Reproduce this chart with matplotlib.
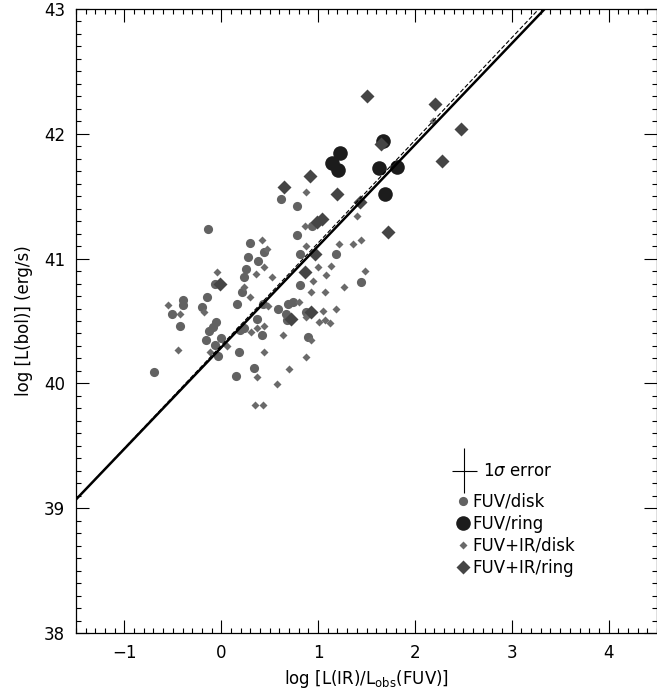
import matplotlib
matplotlib.use("Agg")
import matplotlib.pyplot as plt
from matplotlib.ticker import MultipleLocator
from matplotlib.lines import Line2D

# ---- data ----
fuv_disk_x = [-0.69, -0.14, -0.51, -0.43, -0.40, -0.40, -0.20, -0.15, -0.16, -0.06, 0.00, -0.03,
              -0.13, -0.09, -0.05, -0.06, 0.15, 0.18, 0.19, 0.21, 0.16, 0.23, 0.26, 0.28, 0.30,
              0.38, 0.44, 0.37, 0.42, 0.34, 0.435, 0.59, 0.62, 0.78, 0.78, 0.81, 0.81, 0.69,
              0.745, 0.67, 0.68, 0.88, 0.90, 0.94, 1.19, 1.44, 0.24]
fuv_disk_y = [40.09, 41.24, 40.56, 40.46, 40.63, 40.67, 40.615, 40.69, 40.35, 40.31, 40.36, 40.22,
              40.42, 40.45, 40.49, 40.80, 40.06, 40.25, 40.43, 40.735, 40.64, 40.855, 40.92, 41.015, 41.125,
              40.98, 41.055, 40.516, 40.39, 40.12, 40.64, 40.60, 41.475, 41.42, 41.19, 41.04, 40.79, 40.64,
              40.655, 40.56, 40.51, 40.575, 40.37, 41.26, 41.04, 40.81, 40.44]

fuv_ring_x = [1.23, 1.145, 1.21, 1.675, 1.63, 1.816, 1.692]
fuv_ring_y = [41.85, 41.763, 41.71, 41.942, 41.728, 41.736, 41.52]

fuvir_disk_x = [-0.55, -0.43, -0.45, -0.175, -0.12, -0.04, 0.06, 0.24, 0.30, 0.31, 0.37, 0.36,
                0.445, 0.425, 0.47, 0.44, 0.44, 0.48, 0.525, 0.37, 0.35, 0.435, 0.58, 0.70, 0.64,
                0.80, 0.88, 0.88, 0.93, 0.86, 0.88, 0.88, 0.95, 0.93, 1.00, 1.13, 1.08, 1.27, 1.07,
                1.055, 1.18, 1.07, 1.01, 1.12, 1.485, 1.40, 1.44, 1.365, 1.22, 2.19]
fuvir_disk_y = [40.63, 40.56, 40.27, 40.57, 40.25, 40.89, 40.30, 40.775, 40.695, 40.415, 40.44, 40.88,
                40.935, 41.15, 41.08, 40.46, 40.25, 40.62, 40.85, 40.05, 39.83, 39.83, 39.995, 40.115, 40.39,
                40.655, 40.535, 40.21, 40.35, 41.26, 41.53, 41.10, 40.82, 40.73, 40.93, 40.94, 40.87, 40.77, 40.735,
                40.58, 40.60, 40.51, 40.49, 40.48, 40.90, 41.34, 41.15, 41.12, 41.115, 42.10]

fuvir_ring_x = [0.65, 0.92, 1.20, 1.50, 2.21, 2.48, 2.28, 1.65, 1.43, 1.72, 1.04, 0.99, 0.97,
                0.87, -0.01, 0.72, 0.93]
fuvir_ring_y = [41.575, 41.66, 41.52, 42.30, 42.24, 42.04, 41.785, 41.92, 41.45, 41.21, 41.32, 41.29, 41.04,
                40.895, 40.80, 40.52, 40.575]

fit_solid_x = [-1.5, 3.34]
fit_solid_y = [39.07, 43.0]
fit_dashed_x = [-1.5, 3.28]
fit_dashed_y = [39.07, 43.0]

err_x, err_y = 2.51, 39.30
err_dx, err_dy = 0.13, 0.18

x_ticks = [-1, 0, 1, 2, 3, 4]
y_ticks = [38, 39, 40, 41, 42, 43]

plt.rcParams['font.family'] = ['DejaVu Sans']
fig = plt.figure(figsize=(6.57, 6.96), dpi=100)
ax = fig.add_axes([76/657, 1 - 633/696, (657 - 76)/657, (633 - 9)/696])

c_disk = '#626262'
c_ring = '#1c1c1c'
c_sd = '#6a6a6a'
c_bd = '#454545'

ax.plot(fuv_disk_x, fuv_disk_y, 'o', ms=6.6, color=c_disk, mec='none', zorder=2)
ax.plot(fuv_ring_x, fuv_ring_y, 'o', ms=10.5, color=c_ring, mec='none', zorder=3)
ax.plot(fuvir_disk_x, fuvir_disk_y, 'D', ms=4.0, color=c_sd, mec='none', zorder=4)
ax.plot(fuvir_ring_x, fuvir_ring_y, 'D', ms=6.8, color=c_bd, mec='none', zorder=5)

ax.plot(fit_dashed_x, fit_dashed_y, '--', color='black', lw=0.8, dashes=(4, 2), zorder=6)
ax.plot(fit_solid_x, fit_solid_y, '-', color='black', lw=1.8, zorder=7)

# error cross
ax.errorbar([err_x], [err_y], xerr=[err_dx], yerr=[err_dy], fmt='none', ecolor='black',
            elinewidth=0.8, capsize=0, zorder=8)
ax.text(err_x + 0.19, err_y, r'1$\sigma$ error', fontsize=12, va='center', ha='left')

ax.set_xlim(-1.5, 4.5)
ax.set_ylim(38, 43)
ax.set_xticks(x_ticks)
ax.set_yticks(y_ticks)
ax.set_xticklabels(['\u22121' if t == -1 else str(t) for t in x_ticks])
ax.xaxis.set_minor_locator(MultipleLocator(0.1))
ax.yaxis.set_minor_locator(MultipleLocator(0.1))
ax.tick_params(which='both', direction='in', top=True, right=True, width=0.8, labelsize=12)
ax.tick_params(which='major', length=9.5, pad=8)
ax.tick_params(which='minor', length=3.8)
for s in ax.spines.values():
    s.set_linewidth(0.9)

ax.set_xlabel(r'log [L(IR)/L$_{\rm obs}$(FUV)]', fontsize=12, labelpad=4)
ax.set_ylabel('log [L(bol)] (erg/s)', fontsize=12, labelpad=8)

handles = [
    Line2D([], [], ls='none', marker='o', ms=6.6, color=c_disk, mec='none'),
    Line2D([], [], ls='none', marker='o', ms=10.5, color=c_ring, mec='none'),
    Line2D([], [], ls='none', marker='D', ms=4.0, color=c_sd, mec='none'),
    Line2D([], [], ls='none', marker='D', ms=6.8, color=c_bd, mec='none'),
]
labels = ['FUV/disk', 'FUV/ring', 'FUV+IR/disk', 'FUV+IR/ring']
ax.legend(handles, labels, loc='upper left', bbox_to_anchor=(0.655, 0.225), frameon=False,
          fontsize=12, handlelength=0.8, handletextpad=0.15, labelspacing=0.25,
          borderpad=0, borderaxespad=0)

fig.savefig('out.png', dpi=100)
